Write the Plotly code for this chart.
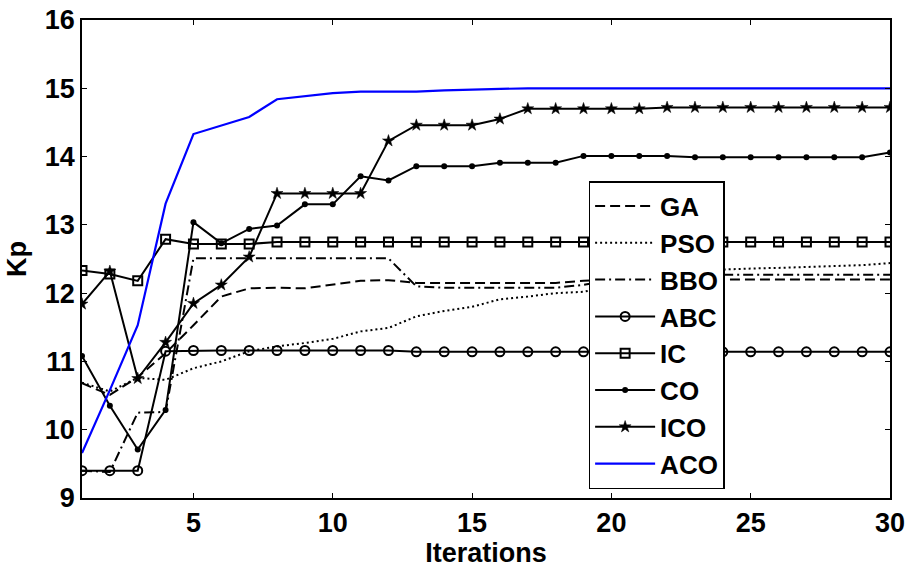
import plotly.graph_objects as go

iterations = list(range(1, 31))

GA = [10.68, 10.51, 10.77, 11.12, 11.53, 11.95, 12.07, 12.08, 12.07, 12.13,
      12.18, 12.19, 12.15, 12.15, 12.15, 12.15, 12.15, 12.15, 12.18, 12.20,
      12.20, 12.20, 12.20, 12.20, 12.20, 12.20, 12.20, 12.20, 12.20, 12.20]
PSO = [10.69, 10.56, 10.76, 10.73, 10.90, 11.00, 11.15, 11.22, 11.27, 11.33,
       11.44, 11.49, 11.66, 11.74, 11.80, 11.91, 11.95, 12.00, 12.02, 12.10,
       12.20, 12.28, 12.33, 12.35, 12.36, 12.37, 12.38, 12.40, 12.41, 12.44]
BBO = [9.40, 9.38, 10.25, 10.26, 12.51, 12.51, 12.51, 12.51, 12.51, 12.51,
       12.51, 12.51, 12.10, 12.08, 12.08, 12.08, 12.08, 12.08, 12.12, 12.20,
       12.27, 12.27, 12.27, 12.27, 12.27, 12.27, 12.27, 12.27, 12.27, 12.27]
ABC = [9.40, 9.40, 9.40, 11.15, 11.16, 11.16, 11.16, 11.16, 11.16, 11.16,
       11.16, 11.16, 11.14, 11.14, 11.14, 11.14, 11.14, 11.14, 11.14, 11.14,
       11.14, 11.14, 11.14, 11.14, 11.14, 11.14, 11.14, 11.14, 11.14, 11.14]
IC = [12.33, 12.28, 12.18, 12.79, 12.72, 12.72, 12.72, 12.75, 12.75, 12.75,
      12.75, 12.75, 12.75, 12.75, 12.75, 12.75, 12.75, 12.75, 12.75, 12.75,
      12.75, 12.75, 12.75, 12.75, 12.75, 12.75, 12.75, 12.75, 12.75, 12.75]
CO = [11.08, 10.35, 9.71, 10.29, 13.04, 12.73, 12.94, 12.99, 13.30, 13.30,
      13.71, 13.65, 13.86, 13.86, 13.86, 13.91, 13.91, 13.91, 14.01, 14.01,
      14.01, 14.01, 13.99, 13.99, 13.99, 13.99, 13.99, 13.99, 13.99, 14.06]
ICO = [11.84, 12.32, 10.75, 11.28, 11.85, 12.12, 12.53, 13.46, 13.46, 13.46,
       13.46, 14.23, 14.46, 14.46, 14.46, 14.55, 14.70, 14.70, 14.70, 14.70,
       14.70, 14.72, 14.72, 14.72, 14.72, 14.72, 14.72, 14.72, 14.72, 14.72]
ACO = [9.66, 10.58, 11.53, 13.31, 14.33, 14.46, 14.58, 14.84, 14.89, 14.93,
       14.95, 14.95, 14.95, 14.97, 14.98, 15.00, 15.00, 15.00, 15.00, 15.00,
       15.00, 15.00, 15.00, 15.00, 15.00, 15.00, 15.00, 15.00, 15.00, 15.00]

x_ticks = [5, 10, 15, 20, 25, 30]
y_ticks = [9, 10, 11, 12, 13, 14, 15, 16]

FONT = "Arial, Liberation Sans, sans-serif"

series = [
    ("GA", GA, dict(color="black", width=2, dash="10px,5px"), None),
    ("PSO", PSO, dict(color="black", width=2, dash="2px,3px"), None),
    ("BBO", BBO, dict(color="black", width=2, dash="10px,4px,2px,4px"), None),
    ("ABC", ABC, dict(color="black", width=2),
     dict(symbol="circle-open", size=9, color="black", line=dict(width=2, color="black"))),
    ("IC", IC, dict(color="black", width=2),
     dict(symbol="square-open", size=9, color="black", line=dict(width=2, color="black"))),
    ("CO", CO, dict(color="black", width=2),
     dict(symbol="circle", size=6, color="black")),
    ("ICO", ICO, dict(color="black", width=2),
     dict(symbol="star", size=9, color="black", line=dict(width=0.5, color="black"))),
    ("ACO", ACO, dict(color="#0000FF", width=2.2), None),
]

fig = go.Figure()
for name, vals, line, marker in series:
    kw = dict(x=iterations, y=vals, name=name, line=line, legendgroup=name)
    if marker is None:
        kw["mode"] = "lines"
    else:
        kw["mode"] = "lines+markers"
        kw["marker"] = marker
    fig.add_trace(go.Scatter(**kw))

axis_common = dict(
    showline=True, linecolor="black", linewidth=1.5, mirror="ticks",
    ticks="inside", ticklen=5, tickwidth=1, tickcolor="black",
    showgrid=False, zeroline=False, automargin=False,
    tickfont=dict(family=FONT, size=27, color="black", weight="bold"),
)

fig.update_layout(
    width=906, height=568,
    margin=dict(l=82, r=16, t=20, b=70),
    paper_bgcolor="white", plot_bgcolor="white",
    font=dict(family=FONT, color="black"),
    xaxis=dict(range=[1, 30], tickvals=x_ticks,
               title=dict(text="<b>Iterations</b>", font=dict(family=FONT, size=27), standoff=1),
               **axis_common),
    yaxis=dict(range=[9, 16], tickvals=y_ticks,
               title=dict(text="<b>Kp</b>", font=dict(family=FONT, size=27), standoff=10),
               **axis_common),
    legend=dict(
        x=0.627, y=0.663, xanchor="left", yanchor="top",
        bgcolor="white", bordercolor="black", borderwidth=1.5,
        font=dict(family=FONT, size=26, color="black", weight="bold"),
        tracegroupgap=0, itemwidth=60,
    ),
    showlegend=True,
)

fig.write_html(
    "out.html",
    config={"displayModeBar": False},
    post_script="document.body.style.margin='0px';document.body.style.overflow='hidden';",
)
